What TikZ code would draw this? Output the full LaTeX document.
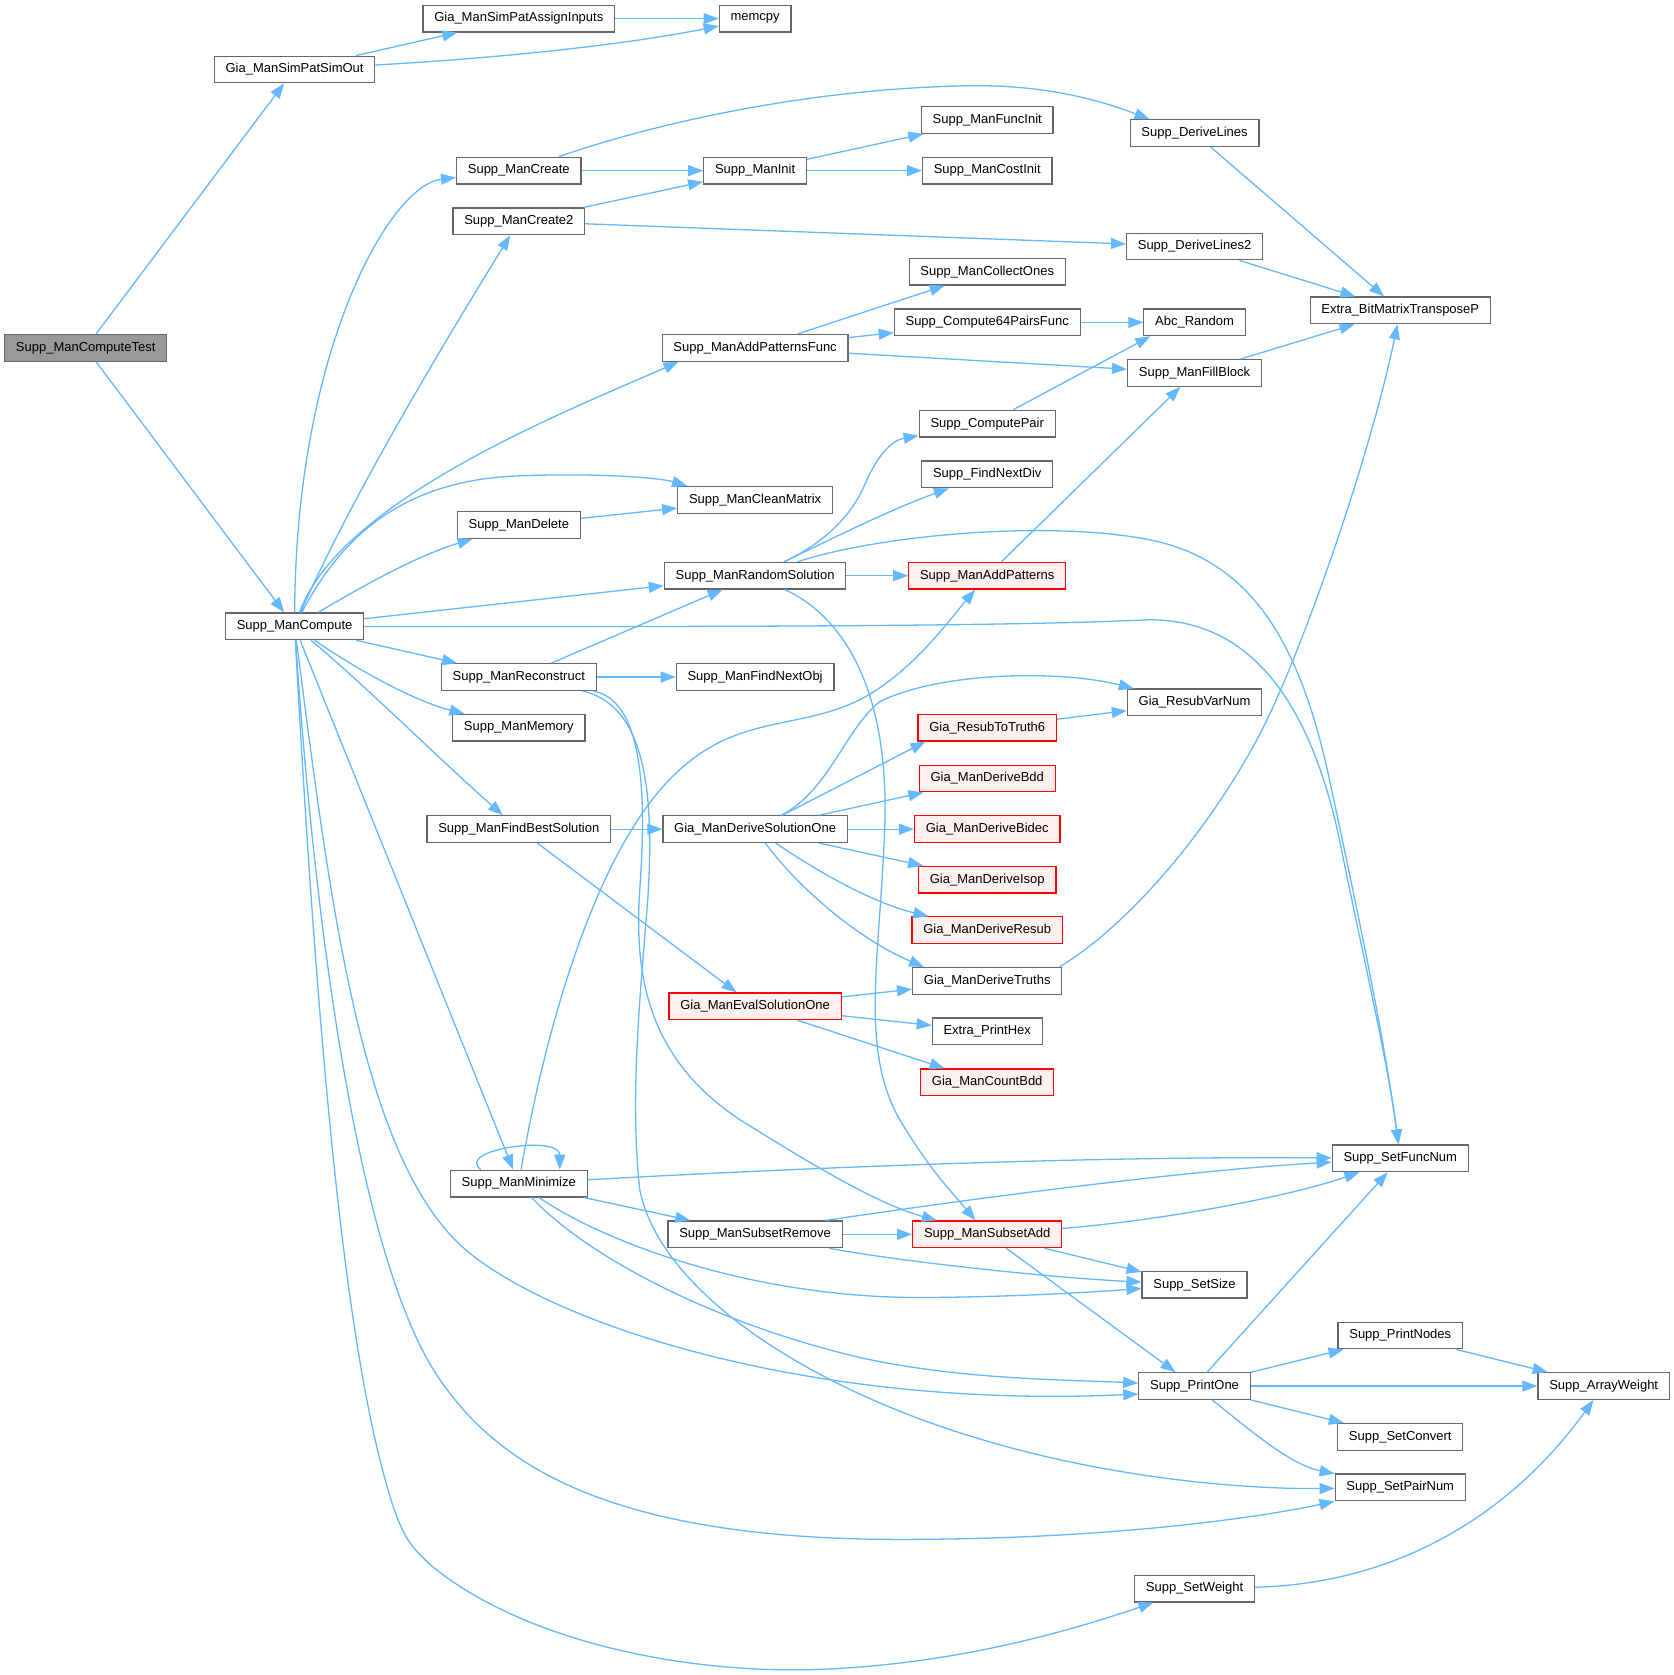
\documentclass[tikz,border=0pt]{standalone}
\usepackage{fontspec}
\setmainfont{Liberation Sans}
\usetikzlibrary{arrows.meta}
\definecolor{callblue}{HTML}{63B8FF}
\definecolor{boxgray}{HTML}{666666}
\definecolor{rootgray}{HTML}{999999}
\definecolor{hotfill}{HTML}{FFF0F0}
\definecolor{hotred}{HTML}{FF0000}

\begin{document}
\begin{tikzpicture}[x=1pt,y=-1pt,
  fn/.style={draw=boxgray,fill=white,line width=1.2pt,minimum height=26.7pt,
    inner xsep=11.3pt,inner ysep=0pt,font=\fontsize{13}{15}\selectfont},
  root/.style={fn,fill=rootgray},
  hot/.style={fn,draw=hotred,fill=hotfill},
  calls/.style={draw=callblue,line width=1.3pt,-{Triangle[length=15pt,width=11pt]}}]
\fill[white] (0,0) rectangle (1674,1675);
% column 0 and 1
\node[root] (test) at (85.7,348) {Supp\_ManComputeTest};
\node[fn] (simout) at (294.7,69.5) {Gia\_ManSimPatSimOut};
\node[fn] (cmp) at (294.7,626.6) {Supp\_ManCompute};
% column 2
\node[fn] (assign) at (519,18.6) {Gia\_ManSimPatAssignInputs};
\node[fn] (crt) at (519,170.7) {Supp\_ManCreate};
\node[fn] (crt2) at (519,221.4) {Supp\_ManCreate2};
\node[fn] (del) at (519,525.2) {Supp\_ManDelete};
\node[fn] (rec) at (519,677.3) {Supp\_ManReconstruct};
\node[fn] (mem) at (519,728) {Supp\_ManMemory};
\node[fn] (fbs) at (519,829.5) {Supp\_ManFindBestSolution};
\node[fn] (mini) at (519,1184) {Supp\_ManMinimize};
% column 3
\node[fn] (mcpy) at (755.4,18.6) {memcpy};
\node[fn] (init) at (755.4,170.7) {Supp\_ManInit};
\node[fn] (apf) at (755.4,348) {Supp\_ManAddPatternsFunc};
\node[fn] (clean) at (755.4,500) {Supp\_ManCleanMatrix};
\node[fn] (rsol) at (755.4,575.9) {Supp\_ManRandomSolution};
\node[fn] (fno) at (755.4,677.3) {Supp\_ManFindNextObj};
\node[fn] (dso) at (755.4,829.5) {Gia\_ManDeriveSolutionOne};
\node[hot] (eval) at (755.4,1006.8) {Gia\_ManEvalSolutionOne};
\node[fn] (srm) at (755.4,1234.8) {Supp\_ManSubsetRemove};
% column 4
\node[fn] (finit) at (987.6,120) {Supp\_ManFuncInit};
\node[fn] (cinit) at (987.6,170.7) {Supp\_ManCostInit};
\node[fn] (coll) at (987.6,271.8) {Supp\_ManCollectOnes};
\node[fn] (c64) at (987.6,322.5) {Supp\_Compute64PairsFunc};
\node[fn] (cpair) at (987.6,423.8) {Supp\_ComputePair};
\node[fn] (fnd) at (987.6,474.6) {Supp\_FindNextDiv};
\node[hot] (addp) at (987.6,575.9) {Supp\_ManAddPatterns};
\node[hot] (r6) at (987.6,728) {Gia\_ResubToTruth6};
\node[hot] (dbdd) at (987.6,778.8) {Gia\_ManDeriveBdd};
\node[hot] (bidec) at (987.6,829.5) {Gia\_ManDeriveBidec};
\node[hot] (isop) at (987.6,880) {Gia\_ManDeriveIsop};
\node[hot] (dres) at (987.6,930.5) {Gia\_ManDeriveResub};
\node[fn] (dtr) at (987.6,981.3) {Gia\_ManDeriveTruths};
\node[fn] (phex) at (987.6,1031.8) {Extra\_PrintHex};
\node[hot] (cbdd) at (987.6,1082.7) {Gia\_ManCountBdd};
\node[hot] (sadd) at (987.6,1234.8) {Supp\_ManSubsetAdd};
% column 5
\node[fn] (dl) at (1195,133.2) {Supp\_DeriveLines};
\node[fn] (dl2) at (1195,246.6) {Supp\_DeriveLines2};
\node[fn] (abc) at (1195,322.5) {Abc\_Random};
\node[fn] (fill) at (1195,373.2) {Supp\_ManFillBlock};
\node[fn] (rvn) at (1195,702.7) {Gia\_ResubVarNum};
\node[fn] (ssz) at (1195,1285.2) {Supp\_SetSize};
\node[fn] (pone) at (1195,1386.6) {Supp\_PrintOne};
\node[fn] (sw) at (1195,1589.2) {Supp\_SetWeight};
% column 6 and 7
\node[fn] (xbt) at (1400.8,310.5) {Extra\_BitMatrixTransposeP};
\node[fn] (sfn) at (1400.8,1158.8) {Supp\_SetFuncNum};
\node[fn] (pnod) at (1400.8,1336) {Supp\_PrintNodes};
\node[fn] (sconv) at (1400.8,1437.4) {Supp\_SetConvert};
\node[fn] (spn) at (1400.8,1488) {Supp\_SetPairNum};
\node[fn] (aw) at (1604.3,1386.6) {Supp\_ArrayWeight};

% top part
\draw[calls] (test) -- (simout);
\draw[calls] (test) -- (cmp);
\draw[calls] (simout) -- (assign);
\draw[calls] (simout) .. controls (520,57) and (640,42) .. (mcpy);
\draw[calls] (assign) -- (mcpy);
% Supp_ManCompute
\draw[calls] (cmp) .. controls (296,350) and (390,185) .. (crt);
\draw[calls] (cmp) .. controls (350,500) and (440,350) .. (crt2);
\draw[calls] (cmp) .. controls (340,500) and (570,410) .. ([xshift=17pt]apf.south west);
\draw[calls] (cmp) .. controls (340,540) and (400,480) .. (520,476)
  .. controls (600,473) and (660,478) .. ([xshift=10pt]clean.north west);
\draw[calls] (cmp) .. controls (370,582) and (420,555) .. (del);
\draw[calls] (cmp) -- (rsol);
\draw[calls] (cmp) .. controls (700,627) and (1000,627) .. (1150,620)
  .. controls (1250,620) and (1310,700) .. (1340,840)
  .. controls (1362,950) and (1388,1060) .. (sfn);
\draw[calls] (cmp) -- (rec);
\draw[calls] (cmp) .. controls (350,665) and (410,700) .. (mem);
\draw[calls] (cmp) .. controls (370,690) and (440,760) .. (fbs);
\draw[calls] (cmp) -- (mini);
\draw[calls] (cmp) .. controls (330,900) and (360,1150) .. (460,1245)
  .. controls (540,1320) and (800,1410) .. ([yshift=-8pt]pone.west);
\draw[calls] (cmp) .. controls (320,1000) and (370,1280) .. (440,1380)
  .. controls (495,1460) and (600,1540) .. (900,1540)
  .. controls (1100,1540) and (1250,1520) .. (spn);
\draw[calls] (cmp) .. controls (315,1000) and (340,1300) .. (380,1460)
  .. controls (400,1540) and (410,1545) .. (430,1565)
  .. controls (520,1640) and (680,1675) .. (820,1670)
  .. controls (950,1665) and (1060,1635) .. (sw);
% create
\draw[calls] (crt) -- (init);
\draw[calls] (crt) .. controls (650,125) and (800,90) .. (960,86)
  .. controls (1050,83) and (1110,104) .. ([xshift=20pt]dl.north west);
\draw[calls] (crt2) -- (init);
\draw[calls] (crt2) -- (dl2);
\draw[calls] (init) -- (finit);
\draw[calls] (init) -- (cinit);
\draw[calls] (dl) -- (xbt);
\draw[calls] (dl2) -- (xbt);
% patterns
\draw[calls] (apf) -- (coll);
\draw[calls] (apf) -- (c64);
\draw[calls] (apf) -- (fill);
\draw[calls] (c64) -- (abc);
\draw[calls] (cpair) -- ([xshift=7pt]abc.south west);
\draw[calls] (fill) -- (xbt);
\draw[calls] (del) -- (clean);
% random solution
\draw[calls] (rsol) .. controls (820,545) and (850,520) .. (865,485)
  .. controls (880,450) and (895,440) .. (cpair);
\draw[calls] (rsol) .. controls (830,540) and (890,510) .. (fnd);
\draw[calls] (rsol) .. controls (880,535) and (1050,520) .. (1150,540)
  .. controls (1250,560) and (1300,640) .. (1330,780)
  .. controls (1360,920) and (1385,1040) .. (sfn);
\draw[calls] (rsol) -- (addp);
\draw[calls] (rsol) .. controls (850,620) and (890,700) .. (885,830)
  .. controls (880,960) and (860,1050) .. (900,1120)
  .. controls (930,1170) and (950,1190) .. (sadd);
\draw[calls] (addp) -- (fill);
% reconstruct
\draw[calls] (rec) -- (rsol);
\draw[calls] (rec) -- (fno);
\draw[calls] (rec) .. controls (640,700) and (648,780) .. (640,890)
  .. controls (634,980) and (650,1060) .. (740,1120)
  .. controls (820,1170) and (880,1205) .. (sadd);
\draw[calls] (rec) .. controls (645,705) and (655,790) .. (648,900)
  .. controls (640,1000) and (630,1100) .. (640,1190)
  .. controls (660,1290) and (800,1380) .. (950,1430)
  .. controls (1100,1480) and (1250,1490) .. (spn);
% best solution
\draw[calls] (fbs) -- (dso);
\draw[calls] (fbs) -- (eval);
\draw[calls] (dso) .. controls (830,790) and (845,730) .. (880,702)
  .. controls (940,672) and (1060,670) .. ([xshift=7pt]rvn.north west);
\draw[calls] (dso) -- ([xshift=8pt]r6.south west);
\draw[calls] (dso) -- (dbdd);
\draw[calls] (dso) -- (bidec);
\draw[calls] (dso) -- (isop);
\draw[calls] (dso) .. controls (830,880) and (880,905) .. (dres);
\draw[calls] (dso) .. controls (800,890) and (860,940) .. ([xshift=12pt]dtr.north west);
\draw[calls] (r6) -- (rvn);
\draw[calls] ([xshift=-3pt]dtr.north east) .. controls (1130,925) and (1210,830) .. (1260,735)
  .. controls (1300,659) and (1370,460) .. (xbt);
\draw[calls] (eval) -- (dtr);
\draw[calls] (eval) -- (phex);
\draw[calls] (eval) -- (cbdd);
% minimize
\draw[calls] ([xshift=31pt]mini.north west) .. controls (455,1150) and (560,1135)
  .. ([xshift=-28pt]mini.north east);
\draw[calls] (mini) .. controls (540,1060) and (590,850) .. (680,770)
  .. controls (740,715) and (800,730) .. (860,700)
  .. controls (910,675) and (950,620) .. (addp);
\draw[calls] (mini) .. controls (900,1163) and (1150,1157) .. (sfn);
\draw[calls] (mini) -- (srm);
\draw[calls] (mini) .. controls (600,1240) and (750,1300) .. (930,1298)
  .. controls (1030,1297) and (1100,1292) .. (ssz);
\draw[calls] (mini) .. controls (580,1250) and (700,1320) .. (860,1358)
  .. controls (960,1380) and (1060,1380) .. ([yshift=3pt]pone.west);
% subsets
\draw[calls] (srm) -- (sadd);
\draw[calls] ([xshift=-17pt]srm.north east) .. controls (1000,1195) and (1200,1170) .. (sfn);
\draw[calls] (srm) .. controls (900,1262) and (1050,1278) .. (ssz);
\draw[calls] (sadd) .. controls (1150,1222) and (1280,1200) .. (sfn);
\draw[calls] (sadd) -- (ssz);
\draw[calls] (sadd) -- (pone);
% print
\draw[calls] (pone) -- (sfn);
\draw[calls] (pone) -- (pnod);
\draw[calls] (pone) -- (aw);
\draw[calls] (pone) -- (sconv);
\draw[calls] (pone) .. controls (1250,1430) and (1290,1465) .. (spn);
\draw[calls] (pnod) -- (aw);
\draw[calls] (sw) .. controls (1380,1585) and (1500,1530) .. (aw);
\end{tikzpicture}
\end{document}
